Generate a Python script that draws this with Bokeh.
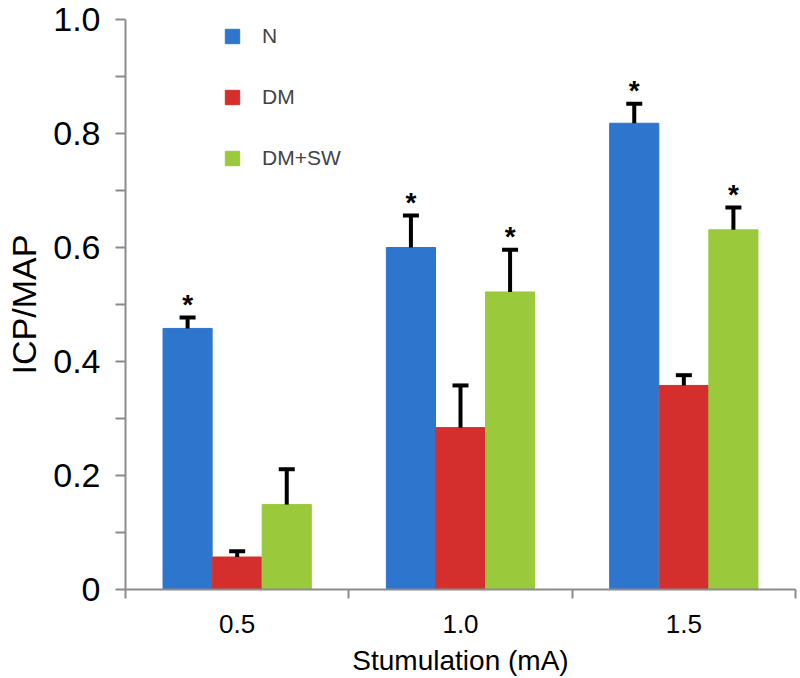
from bokeh.plotting import figure
from bokeh.models import (FixedTicker, Whisker, TeeHead, ColumnDataSource, Legend,
                          LegendItem, Range1d, CustomJSTickFormatter, PrintfTickFormatter)
from bokeh.core.properties import value
from bokeh.embed import file_html
from bokeh.resources import INLINE

# ---- data ----
currents = [0.5, 1.0, 1.5]                 # Stimulation (mA)
groups = ["N", "DM", "DM+SW"]
n_vals = [0.458, 0.600, 0.818]
n_err = [0.019, 0.056, 0.034]
dm_vals = [0.057, 0.284, 0.358]
dm_err = [0.010, 0.074, 0.018]
dmsw_vals = [0.149, 0.522, 0.631]
dmsw_err = [0.062, 0.074, 0.039]
n_sig = [True, True, True]
dm_sig = [False, False, False]
dmsw_sig = [False, True, True]
colors = ["#2E75CD", "#D42F2C", "#9AC93B"]
y_ticks = [0, 0.2, 0.4, 0.6, 0.8, 1.0]
y_minor = [0.1, 0.3, 0.5, 0.7, 0.9]
x_bounds = [0.25, 0.75, 1.25, 1.75]

FONT = "Liberation Sans"
AXIS_COL = "#8c8c8c"

p = figure(width=800, height=678, x_range=Range1d(0.25, 1.75), y_range=Range1d(0, 1.0),
           output_backend="svg", toolbar_location=None,
           min_border_left=125, min_border_right=5, min_border_top=19, min_border_bottom=87)
p.outline_line_color = None
p.grid.visible = False
p.background_fill_color = "white"

series = [(n_vals, n_err, n_sig), (dm_vals, dm_err, dm_sig), (dmsw_vals, dmsw_err, dmsw_sig)]
offset = 0.111
bar_w = 0.110
renderers = []
for j, (vals, errs, sig) in enumerate(series):
    xs = [c + (j - 1) * offset for c in currents]
    tops = [v + e for v, e in zip(vals, errs)]
    src = ColumnDataSource(dict(x=xs, v=vals, top=tops))
    r = p.vbar(x="x", top="v", bottom=0, width=bar_w, source=src,
               fill_color=colors[j], line_color=colors[j], line_width=1)
    renderers.append(r)
    w = Whisker(source=src, base="x", lower="v", upper="top", dimension="height",
                upper_head=TeeHead(size=16, line_width=4, line_color="black"),
                lower_head=None, line_width=4, line_color="black", level="overlay")
    p.add_layout(w)
    sx = [x for x, s in zip(xs, sig) if s]
    sy = [t for t, s in zip(tops, sig) if s]
    if sx:
        p.text(x=sx, y=sy, text=["*"] * len(sx), text_font=value(FONT),
               text_font_size="28px", text_font_style="bold", text_align="center",
               text_baseline="alphabetic", y_offset=-13, text_color="black")

# y axis
ya = p.yaxis[0]
ya.ticker = FixedTicker(ticks=y_ticks, minor_ticks=y_minor)
ya.formatter = CustomJSTickFormatter(code="return tick == 0 ? '0' : tick.toFixed(1);")
ya.axis_line_color = AXIS_COL
ya.axis_line_width = 2
ya.major_tick_line_color = AXIS_COL
ya.major_tick_line_width = 2
ya.minor_tick_line_color = AXIS_COL
ya.minor_tick_line_width = 2
ya.major_tick_out = 10
ya.major_tick_in = 0
ya.minor_tick_out = 10
ya.minor_tick_in = 0
ya.major_label_standoff = 15
ya.major_label_text_font = FONT
ya.major_label_text_font_size = "34px"
ya.major_label_text_color = "black"
ya.axis_label = "ICP/MAP"
ya.axis_label_text_font = FONT
ya.axis_label_text_font_size = "34px"
ya.axis_label_text_font_style = "normal"
ya.axis_label_text_color = "black"
ya.axis_label_standoff = 7

# x axis
xa = p.xaxis[0]
xa.ticker = FixedTicker(ticks=currents, minor_ticks=x_bounds)
xa.formatter = PrintfTickFormatter(format="%.1f")
xa.axis_line_color = AXIS_COL
xa.axis_line_width = 2
xa.major_tick_out = 0
xa.major_tick_in = 0
xa.minor_tick_line_color = AXIS_COL
xa.minor_tick_line_width = 2
xa.minor_tick_out = 9
xa.minor_tick_in = 0
xa.major_label_standoff = 16
xa.major_label_text_font = FONT
xa.major_label_text_font_size = "26px"
xa.major_label_text_color = "black"
xa.axis_label = "Stumulation (mA)"
xa.axis_label_text_font = FONT
xa.axis_label_text_font_size = "28px"
xa.axis_label_text_font_style = "normal"
xa.axis_label_text_color = "black"
xa.axis_label_standoff = 9

legend = Legend(items=[LegendItem(label=g, renderers=[r]) for g, r in zip(groups, renderers)],
                location=(98, 419), orientation="vertical", padding=0, margin=0,
                spacing=37, glyph_width=18, glyph_height=18, label_standoff=21,
                label_text_font=FONT, label_text_font_size="21px",
                border_line_color=None, background_fill_alpha=0)
p.add_layout(legend)

open("out.html", "w").write(file_html(p, INLINE))
